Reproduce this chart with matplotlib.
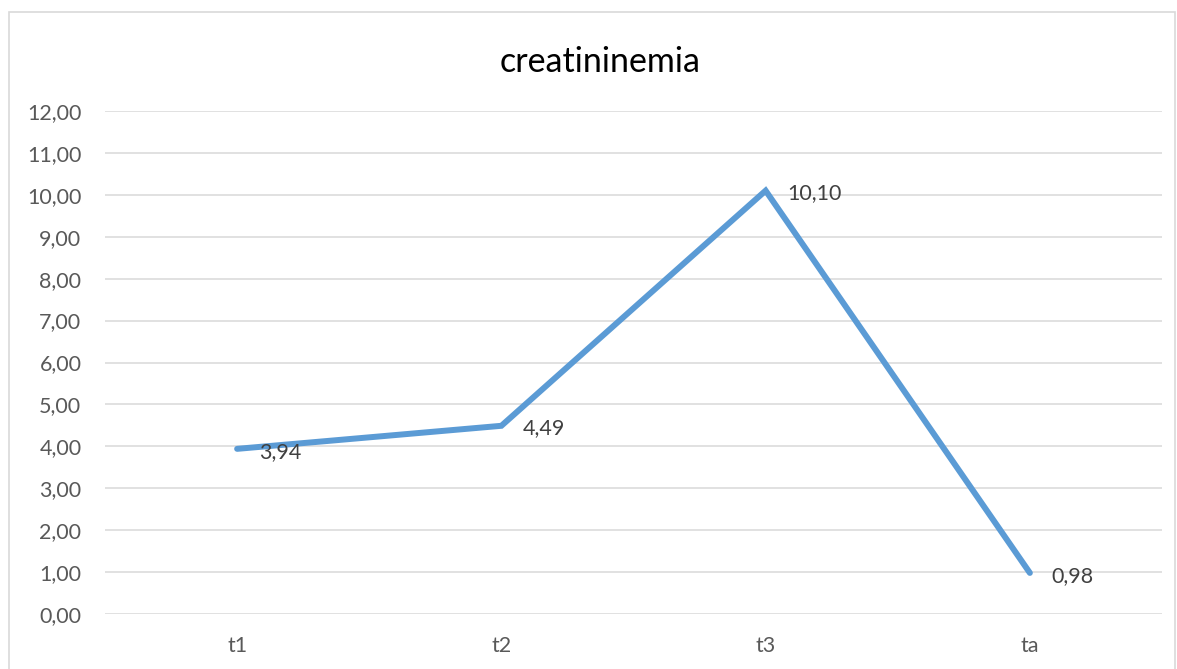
import matplotlib
matplotlib.use("Agg")
import matplotlib.pyplot as plt
from matplotlib.patches import Rectangle

categories = ["t1", "t2", "t3", "ta"]
values = [3.94, 4.49, 10.10, 0.98]
yticks = [0, 1, 2, 3, 4, 5, 6, 7, 8, 9, 10, 11, 12]
title = "creatininemia"

W, H = 1177, 669
fig = plt.figure(figsize=(W / 100, H / 100), dpi=100)
plt.rcParams["font.family"] = ["Lato", "DejaVu Sans"]

# outer chart frame
fig.patches.append(Rectangle((9 / W, -0.01), (1175 - 9) / W, 1 - 12 / H + 0.01,
                             transform=fig.transFigure, fill=False,
                             edgecolor="#D9D9D9", linewidth=1.2))

ax = fig.add_axes([105 / W, 1 - 614 / H, (1162 - 105) / W, (614 - 111) / H])
x = list(range(len(categories)))
ax.plot(x, values, color="#5B9BD5", linewidth=4.3, solid_capstyle="round",
        solid_joinstyle="miter", zorder=3)

ax.set_xlim(-0.5, len(categories) - 0.5)
ax.set_ylim(0, 12)
ax.set_yticks(yticks)
ax.set_yticklabels([f"{v:.2f}".replace(".", ",") for v in yticks])
ax.set_xticks(x)
ax.set_xticklabels(categories)
ax.grid(axis="y", color="#D9D9D9", linewidth=1.1)
ax.set_axisbelow(True)
for s in ax.spines.values():
    s.set_visible(False)
ax.tick_params(axis="both", length=0, labelsize=15.5, labelcolor="#595959")
ax.tick_params(axis="y", pad=17)
ax.tick_params(axis="x", pad=16)

for xi, v in zip(x, values):
    ax.annotate(f"{v:.2f}".replace(".", ","), (xi, v), xytext=(15.5, -2),
                textcoords="offset points", ha="left", va="center",
                fontsize=15.5, color="#404040")

fig.text(600 / W, 1 - 62 / H, title, ha="center", va="center",
         fontsize=24.5, color="#000000")

fig.savefig("out.png", dpi=100)
